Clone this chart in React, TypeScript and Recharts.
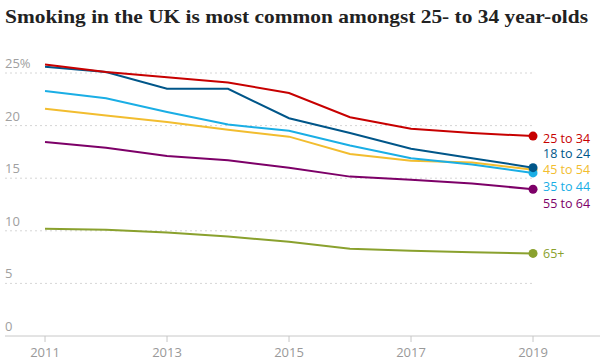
import React from "react";
import { LineChart, Line, XAxis, YAxis, ReferenceLine } from "recharts";

const years = [2011, 2012, 2013, 2014, 2015, 2016, 2017, 2018, 2019];
const age18to24 = [25.6, 25.1, 23.5, 23.5, 20.7, 19.3, 17.8, 16.9, 16.0];
const age25to34 = [25.8, 25.1, 24.6, 24.1, 23.1, 20.8, 19.7, 19.3, 19.0];
const age35to44 = [23.3, 22.6, 21.3, 20.1, 19.5, 18.1, 16.9, 16.3, 15.5];
const age45to54 = [21.6, 20.95, 20.35, 19.6, 18.95, 17.3, 16.65, 16.5, 15.8];
const age55to64 = [18.45, 17.9, 17.1, 16.7, 16.0, 15.15, 14.85, 14.5, 13.95];
const age65plus = [10.2, 10.1, 9.85, 9.45, 8.95, 8.3, 8.1, 7.95, 7.85];

const xTicks = [2011, 2013, 2015, 2017, 2019];
const yTicks = [0, 5, 10, 15, 20, 25];
const title = "Smoking in the UK is most common amongst 25- to 34 year-olds";

const data = years.map((year, i) => ({
  year,
  a18: age18to24[i],
  a25: age25to34[i],
  a35: age35to44[i],
  a45: age45to54[i],
  a55: age55to64[i],
  a65: age65plus[i],
}));

const series = [
  { key: "a65", name: "65+", color: "#8aa12e", labelDy: 0 },
  { key: "a55", name: "55 to 64", color: "#7d0068", labelDy: 14 },
  { key: "a45", name: "45 to 54", color: "#f2bd2f", labelDy: 0 },
  { key: "a35", name: "35 to 44", color: "#1aaee5", labelDy: 14 },
  { key: "a18", name: "18 to 24", color: "#005689", labelDy: -14 },
  { key: "a25", name: "25 to 34", color: "#c70000", labelDy: 2 },
];

const lastIndex = years.length - 1;
const xMin = 2010.344;
const xMax = 2020.098;

const YTick = (props: any) => {
  const { y, payload } = props;
  const v = payload.value;
  return (
    <text x={5} y={y - 5} fill="#a0a0a0" fontSize={13} fontFamily="Open Sans, sans-serif" textAnchor="start">
      {v === 25 ? "25%" : String(v)}
    </text>
  );
};

const XTick = (props: any) => {
  const { x, y, payload } = props;
  return (
    <text x={x} y={y + 13} fill="#999" fontSize={13} fontFamily="Open Sans, sans-serif" textAnchor="middle">
      {payload.value}
    </text>
  );
};

export default function App() {
  return (
    <div style={{ position: "absolute", top: 0, left: 0, width: 600, height: 364, background: "#fff" }}>
      <div style={{ position: "absolute", top: 0, left: 0 }}>
        <LineChart width={600} height={364} data={data} margin={{ top: 20.4, right: 0, left: 0, bottom: 0 }}>
          <XAxis
            dataKey="year"
            type="number"
            domain={[xMin, xMax]}
            ticks={xTicks}
            allowDataOverflow
            height={28}
            tickSize={6}
            tickMargin={2}
            axisLine={{ stroke: "#c8c8c8" }}
            tickLine={{ stroke: "#c8c8c8" }}
            tick={<XTick />}
          />
          <YAxis
            type="number"
            domain={[0, 30]}
            ticks={yTicks}
            width={5}
            axisLine={false}
            tickLine={false}
            tick={<YTick />}
            interval={0}
          />
          {yTicks
            .filter((t) => t > 0)
            .map((t) => (
              <ReferenceLine
                key={t}
                segment={[
                  { x: xMin, y: t },
                  { x: 2019, y: t },
                ]}
                stroke="#d6d6d6"
                strokeDasharray="2 3"
                ifOverflow="visible"
              />
            ))}
          {series.map((s) => (
            <Line
              key={s.key}
              dataKey={s.key}
              stroke={s.color}
              strokeWidth={2}
              isAnimationActive={false}
              dot={(p: any) =>
                p.index === lastIndex ? (
                  <circle key={`d${s.key}`} cx={p.cx} cy={p.cy} r={4.5} fill={s.color} stroke="none" />
                ) : (
                  <g key={`d${s.key}${p.index}`} />
                )
              }
              activeDot={false}
              label={(p: any) =>
                p.index === lastIndex ? (
                  <text
                    key={`l${s.key}`}
                    x={p.x + 10}
                    y={p.y + s.labelDy + 4.5}
                    fill={s.color}
                    fontSize={12.5}
                    fontFamily="Open Sans, sans-serif"
                    textAnchor="start"
                  >
                    {s.name}
                  </text>
                ) : (
                  <g key={`l${s.key}${p.index}`} />
                )
              }
            />
          ))}
        </LineChart>
      </div>
      <svg width={600} height={40} style={{ position: "absolute", top: 0, left: 0 }}>
        <text
          x={5}
          y={23}
          fontFamily="Liberation Serif, serif"
          fontWeight="bold"
          fontSize={19}
          fill="#222"
          textLength={583}
          lengthAdjust="spacingAndGlyphs"
        >
          {title}
        </text>
      </svg>
    </div>
  );
}
